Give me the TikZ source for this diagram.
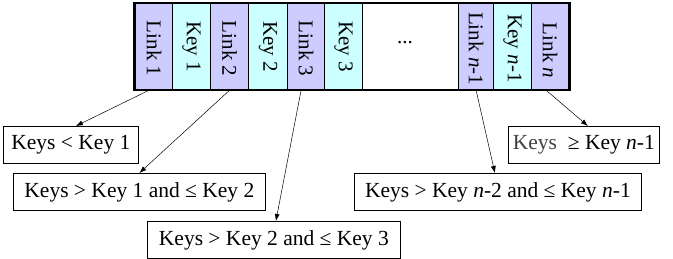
\documentclass[tikz,border=0pt]{standalone}
\usepackage{fontspec}
\setmainfont{Liberation Serif}
\usetikzlibrary{arrows.meta}
\definecolor{linkfill}{RGB}{204,204,255}
\definecolor{keyfill}{RGB}{204,255,255}
\begin{document}
\begin{tikzpicture}[x=1pt,y=-1pt,
  cellbox/.style={draw, line width=1.2pt, minimum height=86pt, inner sep=0pt, anchor=north west},
  linkc/.style={cellbox, fill=linkfill},
  keyc/.style={cellbox, fill=keyfill},
  vt/.style={rotate=-90, inner sep=0pt, font=\fontsize{21}{24}\selectfont},
  keybox/.style={draw, line width=0.8pt, inner sep=0pt, minimum height=37pt, anchor=north west, font=\fontsize{21.5}{24}\selectfont},
  arr/.style={-{Latex[length=7pt,width=5pt]}, line width=0.5pt}]
\useasboundingbox (0,0) rectangle (673,259);
% cells
\node[linkc, minimum width=37pt] (l1) at (135,3) {};
\node[keyc,  minimum width=38pt] (k1) at (172,3) {};
\node[linkc, minimum width=38pt] (l2) at (210,3) {};
\node[keyc,  minimum width=39pt] (k2) at (248,3) {};
\node[linkc, minimum width=37pt] (l3) at (287,3) {};
\node[keyc,  minimum width=38pt] (k3) at (324,3) {};
\node[linkc, minimum width=35pt] (ln1) at (458,3) {};
\node[keyc,  minimum width=38pt] (kn1) at (493,3) {};
\node[linkc, minimum width=37pt] (ln) at (531,3) {};
\node[draw, line width=2pt, minimum width=436pt, minimum height=87pt, inner sep=0pt, anchor=north west] (outer) at (133,2.5) {};
% vertical labels
\node[vt] (t1) at ([yshift=-2pt]l1.center) {Link 1};
\node[vt] (t2) at (k1.center) {Key 1};
\node[vt] (t3) at ([yshift=-2pt]l2.center) {Link 2};
\node[vt] (t4) at (k2.center) {Key 2};
\node[vt] (t5) at ([yshift=-2pt]l3.center) {Link 3};
\node[vt] (t6) at (k3.center) {Key 3};
\node[font=\fontsize{21}{24}\selectfont] (dots) at (405,43) {...};
\node[vt] (t7) at ([yshift=-2pt]ln1.center) {Link \textit{n}-1};
\node[vt] (t8) at ([yshift=-2pt]kn1.center) {Key \textit{n}-1};
\node[vt] (t9) at ([yshift=-4pt]ln.center) {Link \textit{n}};
% key range boxes
\node[keybox, minimum width=135pt] (b1) at (3,126) {Keys < Key 1};
\node[keybox, minimum width=252pt] (b2) at (13,173) {Keys > Key 1 and ≤ Key 2};
\node[keybox, minimum width=253pt] (b3) at (147,221) {Keys > Key 2 and ≤ Key 3};
\node[keybox, minimum width=151pt] (b4) at (508,126) {{\color{black!75}Keys}\ \ ≥ Key \textit{n}-1};
\node[keybox, minimum width=287pt] (b5) at (354,173) {Keys > Key \textit{n}-2 and ≤ Key \textit{n}-1};
% connectors
\draw[arr] ([xshift=-5pt]l1.south) -- ([xshift=5pt]b1.north);
\draw[arr] (l2.south) -- (b2.north);
\draw[arr] ([xshift=-5pt]l3.south) -- ([xshift=2pt]b3.north);
\draw[arr] (ln1.south) -- ([xshift=-3pt]b5.north);
\draw[arr] ([xshift=-4pt]ln.south) -- ([xshift=4pt]b4.north);
\end{tikzpicture}
\end{document}
